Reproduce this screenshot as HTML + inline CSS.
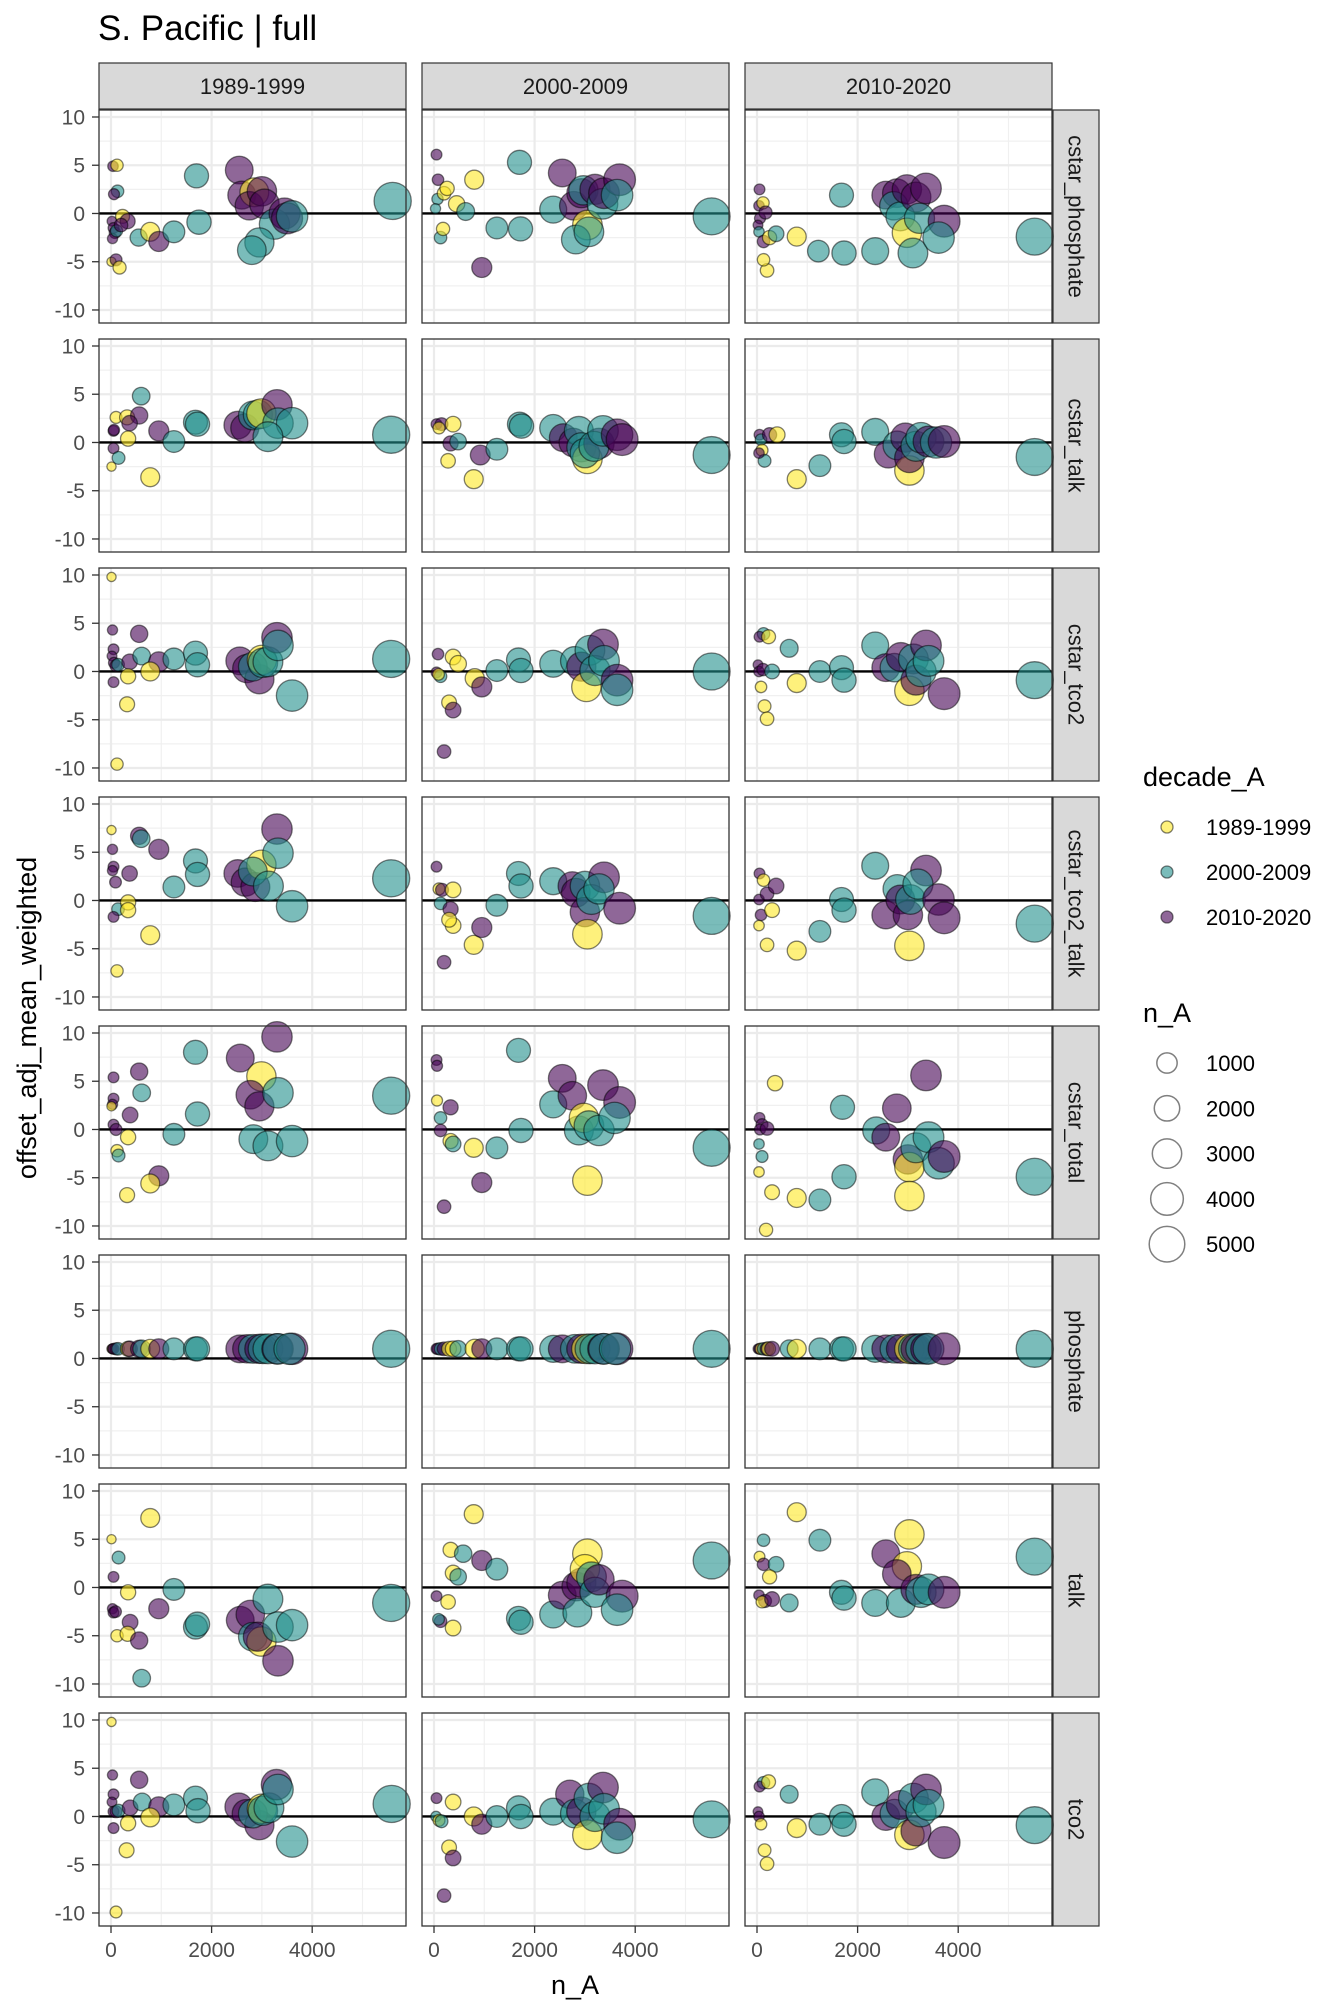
<!DOCTYPE html>
<html><head><meta charset="utf-8"><style>
body{margin:0;background:#fff;}
svg{display:block;font-family:"Liberation Sans",sans-serif;}
</style></head><body>
<svg id="chart" width="1344" height="2016" viewBox="0 0 1344 2016" xmlns="http://www.w3.org/2000/svg">
<text x="98" y="40" font-size="35" fill="#000">S. Pacific | full</text>
<text transform="translate(36,1018) rotate(-90)" text-anchor="middle" font-size="27" fill="#000">offset_adj_mean_weighted</text>
<text x="575" y="1994" text-anchor="middle" font-size="27" fill="#000">n_A</text>
<g id="panels"></g>
<g id="legend">
<text x="1143" y="786" font-size="27" fill="#000">decade_A</text>
<text x="1143" y="1022" font-size="27" fill="#000">n_A</text>
</g>
</svg>
<script>
const decades = ["1989-1999","2000-2009","2010-2020"];
const params = ["cstar_phosphate","cstar_talk","cstar_tco2","cstar_tco2_talk","cstar_total","phosphate","talk","tco2"];
const decadeColors = ["#FDE725","#21908C","#440154"];
const xTicks = [0,2000,4000];
const yTicks = [-10,-5,0,5,10];
const sizeBreaks = [1000,2000,3000,4000,5000];

// [n_A, offset, decade index]
const d_cstar_phosphate_1 = [[40,4.9,2],[120,5,0],[130,2.3,1],[60,2,2],[20,-0.8,2],[50,-1.5,2],[80,-2,2],[30,-2.6,2],[110,-1.8,1],[10,-5,0],[230,-0.3,0],[330,-0.8,2],[200,-1.2,2],[550,-2.5,1],[780,-1.9,0],[950,-2.9,2],[1250,-1.9,1],[1700,3.9,1],[1750,-0.9,1],[2550,4.5,2],[2600,1.9,2],[2850,2.2,0],[2750,0.8,2],[3000,2.3,2],[3050,1,2],[3250,-1.1,1],[3450,0,2],[3500,-0.5,2],[3600,-0.3,1],[2950,-3,1],[2800,-3.8,1],[5600,1.3,1],[100,-4.8,2],[170,-5.6,0]];
const d_cstar_phosphate_2 = [[50,6.1,2],[80,3.5,2],[70,1.5,1],[30,0.5,1],[200,2.1,0],[260,2.6,0],[800,3.5,0],[450,1,0],[630,0.2,1],[130,-2.5,1],[180,-1.6,0],[1250,-1.5,1],[1700,5.3,1],[1720,-1.6,1],[950,-5.6,2],[2550,4.2,2],[2370,0.4,1],[2780,0.8,2],[2930,2.1,2],[2970,2.4,1],[3050,-1.2,0],[2820,-2.7,1],[3080,-1.9,1],[3200,2.5,2],[3350,1,1],[3380,2.1,2],[3690,3.5,2],[3640,1.9,1],[5520,-0.3,1]];
const d_cstar_phosphate_3 = [[50,2.5,2],[40,0.8,2],[120,1.1,0],[60,-0.5,2],[20,-1.2,2],[40,-1.9,1],[130,-2.9,2],[250,-2.5,0],[200,-5.9,0],[130,-4.8,0],[170,0.1,2],[380,-2.1,1],[790,-2.4,0],[1220,-3.9,1],[1680,1.9,1],[1730,-4.1,1],[2350,-3.9,1],[2560,1.9,2],[2780,2.1,2],[2720,0.8,1],[2850,-0.3,1],[2980,2.5,2],[2980,-2,0],[3160,1.7,2],[3100,-4.1,1],[3360,2.6,2],[3230,-0.5,1],[3720,-0.8,2],[3610,-2.5,1],[5520,-2.4,1]];
const d_cstar_talk_1 = [[600,4.8,1],[100,2.6,0],[320,2.6,0],[560,2.8,2],[370,2,2],[50,1.2,2],[60,1.3,2],[340,0.4,0],[50,-0.6,2],[150,-1.6,1],[10,-2.5,0],[780,-3.6,0],[950,1.2,2],[1250,0.1,1],[1680,2.1,1],[1720,1.9,1],[2520,1.8,2],[2660,1.5,2],[2820,2.8,1],[2920,2.9,1],[2990,3,0],[3300,3.9,2],[3320,2,1],[3600,2,1],[3120,0.6,1],[5570,0.8,1]];
const d_cstar_talk_2 = [[50,1.9,2],[150,1.9,2],[100,1.5,0],[380,1.9,0],[330,-0.1,2],[280,-1.9,0],[790,-3.8,0],[480,0.1,1],[920,-1.3,2],[1250,-0.7,1],[1700,1.9,1],[1740,1.7,1],[2370,1.5,1],[2570,0.5,2],[2770,0,2],[2880,1.2,1],[2930,-0.5,1],[3050,-1.7,0],[3000,-1.1,1],[3280,-0.1,2],[3180,-0.4,1],[3360,1.2,1],[3640,0.8,2],[3740,0.3,2],[5520,-1.3,1]];
const d_cstar_talk_3 = [[50,0.8,2],[80,0.3,1],[250,0.8,2],[100,-0.8,0],[150,-1.9,1],[40,-1.1,2],[400,0.8,0],[790,-3.8,0],[1250,-2.4,1],[1680,0.8,1],[1730,0.1,1],[2350,1.1,1],[2610,-1.2,2],[2790,-0.3,1],[2950,0.5,2],[3030,-2.9,0],[3030,-1.6,2],[3160,-0.4,1],[3260,0.5,1],[3410,0.1,2],[3560,0,1],[3720,0.1,2],[5520,-1.5,1]];
const d_cstar_tco2_1 = [[10,9.8,0],[30,4.3,2],[560,3.9,2],[50,2.3,2],[20,1.6,2],[60,0.9,2],[100,0.6,2],[140,0.7,1],[370,1,2],[610,1.6,1],[950,1,2],[340,-0.5,0],[780,0,0],[50,-1.1,2],[320,-3.4,0],[120,-9.6,0],[1250,1.3,1],[1680,1.9,1],[1720,0.7,1],[2560,1.1,2],[2700,0.3,2],[2950,-0.8,2],[2820,0.5,1],[3000,1.2,0],[3020,0.9,1],[3120,1,1],[3300,3.5,2],[3320,2.7,1],[3600,-2.5,1],[5570,1.3,1]];
const d_cstar_tco2_2 = [[80,1.8,2],[380,1.5,0],[480,0.8,0],[50,-0.1,2],[130,-0.5,1],[90,-0.3,0],[810,-0.7,0],[950,-1.6,2],[300,-3.2,0],[380,-4,2],[200,-8.3,2],[1250,0.1,1],[1680,1.2,1],[1730,0.1,1],[2370,0.8,1],[2800,1.1,1],[2930,0.5,2],[3030,-1.6,0],[3100,2.2,1],[3200,0.1,1],[3360,2.8,2],[3380,1.1,1],[3640,-0.9,2],[3640,-1.9,1],[5520,0,1]];
const d_cstar_tco2_3 = [[130,3.9,1],[50,3.6,2],[230,3.6,0],[20,0.7,2],[40,0,2],[120,0.2,2],[300,0,1],[150,-3.6,0],[200,-4.9,0],[80,-1.6,0],[640,2.4,1],[790,-1.2,0],[1250,0,1],[1680,0.4,1],[1730,-0.9,1],[2350,2.7,1],[2560,0.4,2],[2730,0.4,1],[2860,1.5,2],[3030,-2,0],[3110,1.3,1],[3160,-0.9,2],[3260,0,1],[3360,2.7,2],[3410,1.1,1],[3720,-2.3,2],[5520,-0.9,1]];
const d_cstar_tco2_talk_1 = [[10,7.3,0],[30,5.3,2],[560,6.7,2],[600,6.4,1],[950,5.3,2],[50,3.5,2],[30,3.1,2],[90,1.9,2],[370,2.8,2],[140,-0.9,1],[50,-1.7,2],[340,-0.2,0],[340,-1,0],[780,-3.6,0],[120,-7.3,0],[1250,1.4,1],[1680,4.1,1],[1720,2.7,1],[2520,2.8,2],[2670,1.9,2],[2870,1.4,2],[2990,3.7,0],[2820,3,1],[3300,7.4,2],[3320,4.9,1],[3130,1.5,1],[3600,-0.6,1],[5570,2.3,1]];
const d_cstar_tco2_talk_2 = [[50,3.5,2],[100,1.2,0],[160,1.1,2],[380,1.1,0],[130,-0.3,1],[330,-0.9,2],[380,-2.6,0],[300,-2,0],[200,-6.4,2],[790,-4.6,0],[950,-2.8,2],[1250,-0.5,1],[1680,2.8,1],[1730,1.5,1],[2370,2,1],[2750,1.5,2],[2820,0.8,2],[3000,1.5,1],[3000,-1.2,2],[3050,-3.5,0],[3130,0.1,1],[3380,2.4,2],[3280,1.2,1],[3690,-0.8,2],[5520,-1.6,1]];
const d_cstar_tco2_talk_3 = [[50,2.8,2],[130,2.1,0],[40,0.1,2],[200,0.7,2],[80,-1.5,2],[40,-2.6,0],[200,-4.6,0],[300,-1,0],[380,1.5,2],[790,-5.2,0],[1250,-3.2,1],[1680,0.1,1],[1730,-1,1],[2350,3.6,1],[2560,-1.5,2],[2790,1.2,1],[2850,0.1,2],[3000,-1.5,2],[3050,0.1,1],[3030,-4.7,0],[3360,3.1,2],[3200,1.7,1],[3610,0.1,2],[3720,-1.8,2],[5520,-2.4,1]];
const d_cstar_total_1 = [[50,5.4,2],[560,6,2],[610,3.8,1],[50,3.2,2],[30,2.6,2],[10,2.4,0],[380,1.5,2],[50,0.5,2],[100,0,2],[340,-0.8,0],[120,-2.2,0],[150,-2.7,1],[950,-4.8,2],[780,-5.6,0],[320,-6.8,0],[1250,-0.5,1],[1680,8,1],[1720,1.6,1],[2570,7.4,2],[2990,5.5,0],[2770,3.6,2],[2950,2.4,2],[3320,3.8,1],[3300,9.6,2],[2830,-1,1],[3120,-1.7,1],[3600,-1.2,1],[5570,3.5,1]];
const d_cstar_total_2 = [[50,7.2,2],[60,6.6,2],[60,3,0],[330,2.3,2],[130,1.2,1],[130,-0.1,2],[330,-1.2,0],[200,-8,2],[380,-1.5,1],[790,-1.9,0],[950,-5.5,2],[1250,-1.9,1],[1680,8.2,1],[1730,-0.1,1],[2370,2.6,1],[2550,5.3,2],[2750,3.5,2],[2880,-0.1,1],[2980,1.2,0],[3050,-5.3,0],[3080,0.4,1],[3360,4.6,2],[3280,-0.1,1],[3690,2.8,2],[3590,1.2,1],[5520,-1.9,1]];
const d_cstar_total_3 = [[360,4.8,0],[50,1.2,2],[100,0.5,2],[60,0,2],[200,0.1,2],[40,-1.5,1],[100,-2.8,1],[40,-4.4,0],[300,-6.5,0],[790,-7.1,0],[180,-10.4,0],[1250,-7.3,1],[1700,2.3,1],[1730,-4.9,1],[2370,-0.1,1],[2560,-0.8,2],[2780,2.2,2],[3000,-3.1,2],[3030,-3.9,0],[3030,-6.9,0],[3160,-1.9,1],[3360,5.6,2],[3410,-0.8,1],[3610,-3.5,1],[3720,-2.8,2],[5520,-4.9,1]];
const d_phosphate_1 = [[10,1,0],[30,1,2],[50,1,2],[100,1,2],[140,1,1],[340,1,0],[370,1,2],[560,1,2],[610,1,1],[780,1,0],[950,1,2],[1250,1,1],[1680,1,1],[1720,1,1],[2560,1,2],[2700,1,2],[2820,1,1],[2950,1,2],[3020,1,1],[3120,1,1],[3300,1,2],[3320,1,1],[3600,1,2],[3550,1,1],[5570,1,1]];
const d_phosphate_2 = [[50,1,2],[80,1,2],[130,1,1],[200,1,2],[300,1,0],[380,1,0],[480,1,1],[810,1,0],[950,1,2],[1250,1,1],[1680,1,1],[1730,1,1],[2370,1,1],[2550,1,2],[2800,1,1],[2930,1,2],[3030,1,0],[3100,1,1],[3200,1,1],[3360,1,2],[3380,1,1],[3640,1,2],[3600,1,1],[5520,1,1]];
const d_phosphate_3 = [[20,1,2],[50,1,2],[80,1,0],[130,1,1],[200,1,2],[230,1,0],[300,1,2],[640,1,1],[790,1,0],[1250,1,1],[1680,1,1],[1730,1,1],[2350,1,1],[2560,1,2],[2730,1,1],[2860,1,2],[3030,1,0],[3110,1,1],[3160,1,2],[3260,1,1],[3360,1,2],[3410,1,1],[3720,1,2],[5520,1,1]];
const d_talk_1 = [[780,7.2,0],[10,5,0],[150,3.1,1],[50,1.1,2],[340,-0.5,0],[30,-2.2,2],[50,-2.6,2],[90,-2.5,2],[950,-2.2,2],[380,-3.6,2],[120,-5,0],[330,-4.8,0],[560,-5.5,2],[610,-9.4,1],[1250,-0.2,1],[1680,-4.1,1],[1720,-3.8,1],[2570,-3.4,2],[2770,-2.8,2],[3120,-1.2,1],[2820,-5.1,1],[2990,-5.6,0],[2920,-5.1,2],[3320,-4.1,1],[3600,-3.9,1],[3320,-7.6,2],[5570,-1.6,1]];
const d_talk_2 = [[790,7.6,0],[330,3.9,0],[580,3.5,1],[950,2.8,2],[380,1.5,0],[480,1.1,1],[50,-0.9,2],[280,-1.5,0],[130,-3.5,2],[90,-3.3,1],[380,-4.2,0],[1250,1.9,1],[1680,-3.2,1],[1730,-3.6,1],[2370,-2.8,1],[2550,-0.8,2],[2830,0.1,2],[2850,-2.6,1],[2930,0.5,2],[3050,3.5,0],[3000,1.9,0],[3130,1.1,1],[3200,-0.5,1],[3280,0.8,2],[3740,-0.9,2],[3640,-2.3,1],[5520,2.8,1]];
const d_talk_3 = [[790,7.8,0],[130,4.9,1],[50,3.2,0],[130,2.4,2],[380,2.4,1],[250,1.1,0],[40,-0.8,2],[160,-1.4,2],[100,-1.5,0],[300,-1.2,2],[640,-1.6,1],[1250,4.9,1],[1680,-0.5,1],[1730,-1.1,1],[2350,-1.6,1],[2560,3.5,2],[3030,5.5,0],[2980,2.2,0],[2780,1.4,2],[2860,-1.6,1],[3160,-0.2,2],[3260,-0.5,1],[3410,-0.2,1],[3720,-0.5,2],[5520,3.2,1]];
const d_tco2_1 = [[10,9.8,0],[30,4.3,2],[560,3.8,2],[50,2.3,2],[20,1.5,2],[50,0.5,2],[100,0.5,2],[150,0.6,1],[380,0.9,2],[620,1.5,1],[950,1,2],[340,-0.7,0],[780,-0.1,0],[50,-1.2,2],[310,-3.5,0],[100,-9.9,0],[1250,1.2,1],[1680,1.9,1],[1730,0.6,1],[2540,1,2],[2690,0.3,2],[2950,-0.9,2],[2820,0.3,1],[3000,0.8,0],[3020,0.6,1],[3140,0.9,1],[3290,3.3,2],[3320,2.8,1],[3600,-2.6,1],[5580,1.3,1]];
const d_tco2_2 = [[50,1.9,2],[380,1.5,0],[40,0,1],[100,-0.4,0],[150,-0.5,1],[790,0,0],[950,-0.8,2],[300,-3.2,0],[380,-4.3,2],[200,-8.2,2],[1250,0,1],[1680,0.9,1],[1730,0,1],[2370,0.5,1],[2700,2.3,2],[2800,0.3,1],[2930,0.5,2],[3050,-1.9,0],[3080,1.9,1],[3200,0,1],[3360,3,2],[3380,0.8,1],[3690,-0.8,2],[3640,-2.2,1],[5520,-0.3,1]];
const d_tco2_3 = [[130,3.5,1],[50,3.1,2],[230,3.6,0],[20,0.5,2],[40,0,2],[150,-3.5,0],[200,-4.9,0],[80,-0.8,0],[640,2.3,1],[790,-1.2,0],[1250,-0.8,1],[1680,0,1],[1730,-0.8,1],[2350,2.5,1],[2560,0,2],[2730,0.3,1],[2860,1.2,2],[3030,-1.9,0],[3110,1.9,1],[3160,-1.5,2],[3260,0.5,1],[3360,2.8,2],[3410,1.2,1],[3720,-2.7,2],[5520,-0.9,1]];

const panelData = [
 [d_cstar_phosphate_1,d_cstar_phosphate_2,d_cstar_phosphate_3],
 [d_cstar_talk_1,d_cstar_talk_2,d_cstar_talk_3],
 [d_cstar_tco2_1,d_cstar_tco2_2,d_cstar_tco2_3],
 [d_cstar_tco2_talk_1,d_cstar_tco2_talk_2,d_cstar_tco2_talk_3],
 [d_cstar_total_1,d_cstar_total_2,d_cstar_total_3],
 [d_phosphate_1,d_phosphate_2,d_phosphate_3],
 [d_talk_1,d_talk_2,d_talk_3],
 [d_tco2_1,d_tco2_2,d_tco2_3]
];

const NS = "http://www.w3.org/2000/svg";
const PW = 307, PH = 213, COL0 = 99, COLP = 323, ROW0 = 110, ROWP = 229;
const XMIN = -238.6, XMAX = 5864.9, YMAX = 10.725, YMIN = -11.35;
function xs(c, n){ return COL0 + c*COLP + (n - XMIN)/(XMAX - XMIN)*PW; }
function ys(r, v){ return ROW0 + r*ROWP + (YMAX - v)/(YMAX - YMIN)*PH; }
function rs(n){ return 4 + 0.195*Math.sqrt(n); }
function mk(tag, attrs, parent){
  const e = document.createElementNS(NS, tag);
  for (const k in attrs) e.setAttribute(k, attrs[k]);
  parent.appendChild(e); return e;
}
const root = document.getElementById('panels');

// column strips
decades.forEach((d, c) => {
  const x0 = COL0 + c*COLP;
  const s = mk('rect', {x:x0, y:63, width:PW, height:46, fill:'#d9d9d9', stroke:'#333', 'stroke-width':1.2}, root);
  
  
  const t = mk('text', {x:x0+PW/2, y:94, 'text-anchor':'middle', 'font-size':22, fill:'#1a1a1a'}, root);
  t.textContent = d;
  
  
});

params.forEach((p, r) => {
  const y0 = ROW0 + r*ROWP;
  const s = mk('rect', {x:COL0+2*COLP+PW+1, y:y0, width:46, height:PH, fill:'#d9d9d9', stroke:'#333', 'stroke-width':1.2}, root);
  
  
  const tx = COL0+2*COLP+PW+24;
  const t = mk('text', {x:tx, y:y0+PH/2, transform:`rotate(90 ${tx} ${y0+PH/2})`, 'text-anchor':'middle', 'dominant-baseline':'central', 'font-size':22, fill:'#1a1a1a'}, root);
  t.textContent = p;
  
  

  decades.forEach((d, c) => {
    const x0 = COL0 + c*COLP;
    const g = mk('g', {}, root);
    
    
    mk('rect', {x:x0, y:y0, width:PW, height:PH, fill:'#fff'}, g);
    // minor grid
    [-7.5,-2.5,2.5,7.5].forEach(v => mk('line', {x1:x0, x2:x0+PW, y1:ys(r,v), y2:ys(r,v), stroke:'#f0f0f0', 'stroke-width':1.2}, g));
    [1000,3000,5000].forEach(v => mk('line', {x1:xs(c,v), x2:xs(c,v), y1:y0, y2:y0+PH, stroke:'#f0f0f0', 'stroke-width':1.2}, g));
    yTicks.forEach(v => mk('line', {x1:x0, x2:x0+PW, y1:ys(r,v), y2:ys(r,v), stroke:'#ebebeb', 'stroke-width':2.2}, g));
    xTicks.forEach(v => mk('line', {x1:xs(c,v), x2:xs(c,v), y1:y0, y2:y0+PH, stroke:'#ebebeb', 'stroke-width':2.2}, g));
    const z = mk('line', {x1:x0, x2:x0+PW, y1:ys(r,0), y2:ys(r,0), stroke:'#000', 'stroke-width':2.4}, g);
    
    
    panelData[r][c].forEach(pt => {
      const ci = mk('circle', {cx:xs(c,pt[0]), cy:ys(r,pt[1]), r:rs(pt[0]), fill:decadeColors[pt[2]], 'fill-opacity':0.6, stroke:'#000', 'stroke-opacity':0.5, 'stroke-width':1.3}, g);
      
      
    });
    mk('rect', {x:x0, y:y0, width:PW, height:PH, fill:'none', stroke:'#333', 'stroke-width':1.3}, g);
  });

  // y ticks on left column
  yTicks.forEach(v => {
    mk('line', {x1:92, x2:99, y1:ys(r,v), y2:ys(r,v), stroke:'#333', 'stroke-width':1.3}, root);
    const t = mk('text', {x:85, y:ys(r,v)+7.5, 'text-anchor':'end', 'font-size':21, fill:'#4d4d4d'}, root);
    t.textContent = v;
    
    
  });
});

// x ticks on bottom row
const yb = ROW0 + 7*ROWP + PH;
decades.forEach((d, c) => {
  xTicks.forEach(v => {
    mk('line', {x1:xs(c,v), x2:xs(c,v), y1:yb, y2:yb+7, stroke:'#333', 'stroke-width':1.3}, root);
    const t = mk('text', {x:xs(c,v), y:yb+31, 'text-anchor':'middle', 'font-size':21, fill:'#4d4d4d'}, root);
    t.textContent = v;
    
    
  });
});

// legend
const lg = document.getElementById('legend');
decades.forEach((d, i) => {
  const cy = 827 + i*45;
  const c = mk('circle', {cx:1167, cy:cy, r:6, fill:decadeColors[i], 'fill-opacity':0.6, stroke:'#000', 'stroke-opacity':0.5, 'stroke-width':1.3}, lg);
  
  
  const t = mk('text', {x:1206, y:cy+8, 'font-size':22, fill:'#000'}, lg);
  t.textContent = d;
  
  
});
sizeBreaks.forEach((n, i) => {
  const cy = 1063 + i*45.3;
  const c = mk('circle', {cx:1167, cy:cy, r:rs(n), fill:'none', stroke:'#000', 'stroke-opacity':0.5, 'stroke-width':1.5}, lg);
  
  
  const t = mk('text', {x:1206, y:cy+8, 'font-size':22, fill:'#000'}, lg);
  t.textContent = n;
  
  
});
</script>
</body></html>
